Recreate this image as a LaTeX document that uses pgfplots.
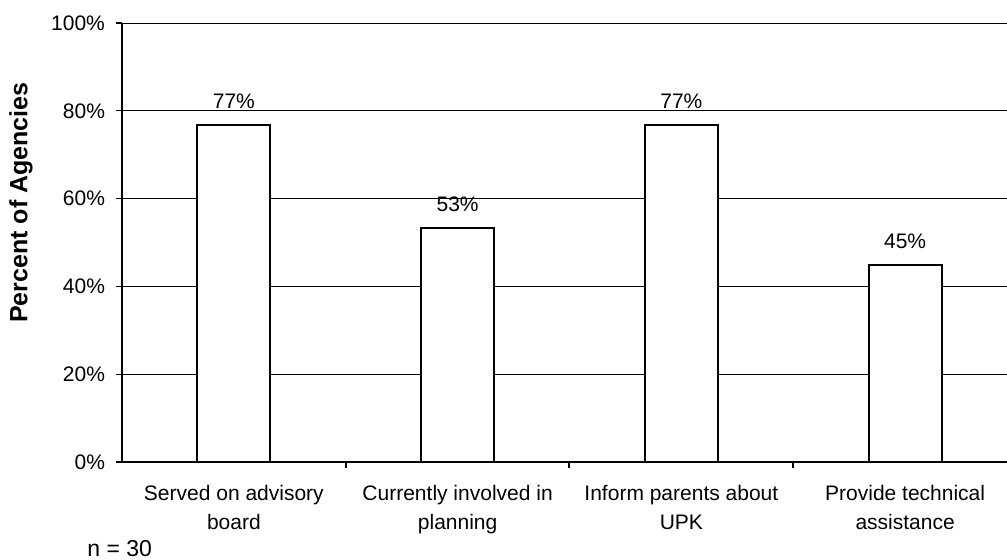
\documentclass[border=0pt]{standalone}
\usepackage{pgfplots}
\pgfplotsset{compat=1.18}
\usepackage{pgfplotstable}
\usepackage{fontspec}
\setmainfont{Liberation Sans}
\usetikzlibrary{calc}
\pgfplotstableread{
x y lab
0 76.7 77
1 53.3 53
2 76.7 77
3 44.8 45
}\datatable
\begin{document}
\begin{tikzpicture}
\begin{axis}[
  name=ax,
  scale only axis,
  width=447.5pt, height=219.5pt,
  xmin=-0.5, xmax=3.5, ymin=0, ymax=100,
  axis x line*=bottom, axis y line*=left,
  axis line style={line width=1pt, -},
  /pgf/number format/assume math mode=true,
  ytick={0,20,40,60,80,100},
  yticklabel={\pgfmathprintnumber{\tick}\%},
  yticklabel style={font=\fontsize{10.5}{12.6}\selectfont, xshift=-2pt},
  ytick style={line width=0.6pt, black},
  tick align=outside,
  major tick length=3pt,
  ymajorgrids,
  grid style={black, line width=0.5pt},
  xtick={0,1,2,3},
  xticklabels={{Served on advisory\\board},{Currently involved in\\planning},{Inform parents about\\UPK},{Provide technical\\assistance}},
  xticklabel style={align=center, font=\fontsize{10.5}{14.5}\selectfont, yshift=-5pt},
  xtick style={draw=none},
  extra x ticks={0.5,1.5,2.5},
  extra x tick labels={},
  extra x tick style={xtick style={draw=black, line width=1pt}},
  ylabel={\textbf{Percent of Agencies}},
  ylabel style={font=\fontsize{12.5}{14}\selectfont, at={(axis description cs:0,0.5)}, anchor=center, xshift=20pt, yshift=50.5pt},
  clip=false,
]
\addplot[ybar, bar width=36.5pt, fill=white, draw=black, line width=1pt,
  point meta=explicit symbolic,
  nodes near coords={\pgfplotspointmeta\%},
  nodes near coords style={font=\fontsize{10.5}{12.6}\selectfont, anchor=base, inner sep=0pt, yshift=8.5pt}]
  table[x=x, y=y, meta=lab] {\datatable};
\end{axis}
\node[anchor=base west, font=\fontsize{11.5}{13}\selectfont, inner sep=0pt] at ($(ax.south west)+(-17.5pt,-47pt)$) {n = 30};
\pgfresetboundingbox
\useasboundingbox ($(ax.south west)+(-61pt,-48.5pt)$) rectangle ($(ax.south west)+(442.5pt,231pt)$);
\end{tikzpicture}
\end{document}
